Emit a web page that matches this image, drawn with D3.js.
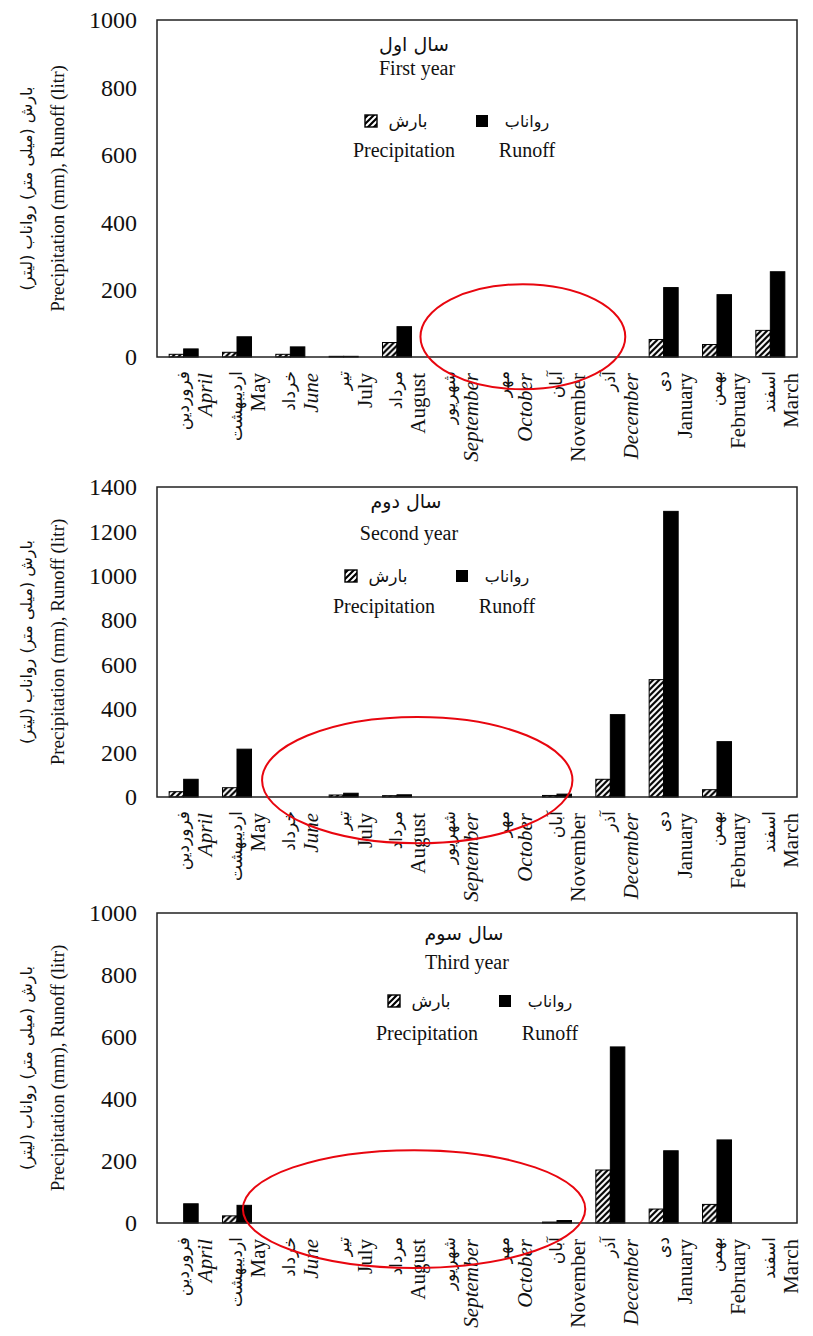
<!DOCTYPE html>
<html>
<head>
<meta charset="utf-8">
<script src="https://cdn.jsdelivr.net/npm/d3@7"></script>
<style>
  body { margin: 0; background: #fff; }
</style>
</head>
<body>
<div id="chart"></div>
<script>
// months (Persian calendar order, April -> March)
const monthsEn = ["April", "May", "June", "July", "August", "September", "October", "November", "December", "January", "February", "March"];
const monthsFa = ["فروردین", "اردیبهشت", "خرداد", "تیر", "مرداد", "شهریور", "مهر", "آبان", "آذر", "دی", "بهمن", "اسفند"];
const italicMonths = ["April", "June", "September", "October", "December"];

// first year
const precip1 = [8, 14, 8, 2, 43, 0, 0, 0, 0, 52, 37, 79];
const runoff1 = [24, 60, 30, 2, 90, 0, 0, 0, 0, 206, 185, 253];
// second year
const precip2 = [24, 42, 0, 9, 6, 0, 0, 7, 80, 530, 33, 0];
const runoff2 = [80, 216, 0, 17, 10, 0, 0, 13, 372, 1290, 250, 0];
// third year
const precip3 = [0, 23, 0, 0, 0, 0, 0, 3, 171, 45, 60, 0];
const runoff3 = [62, 57, 0, 0, 0, 0, 0, 8, 568, 233, 268, 0];

const ticks1 = [0, 200, 400, 600, 800, 1000];
const ticks2 = [0, 200, 400, 600, 800, 1000, 1200, 1400];
const ticks3 = [0, 200, 400, 600, 800, 1000];

const titlesFa = ["سال اول", "سال دوم", "سال سوم"];
const titlesEn = ["First year", "Second year", "Third year"];
const legendFa = ["بارش", "رواناب"];
const legendEn = ["Precipitation", "Runoff"];
const yTitleFa = "بارش (میلی متر) رواناب (لیتر)";
const yTitleEn = "Precipitation (mm), Runoff (litr)";

const serif = "'Liberation Serif', 'Times New Roman', serif";
const faFont = "'DejaVu Sans', sans-serif";

const width = 813, height = 1336;
const left = 157, right = 797;

// layout of each panel (pixels); ellipse in category / value units
const panels = [
  { precip: precip1, runoff: runoff1, ticks: ticks1, top: 20, bottom: 357,
    titleX: 414, titleFaY: 51, titleEnY: 75, legX: 404, legRowY: 121, legEnY: 157,
    ell: { cx: 6.86, cy: 60, rx: 1.92, ry: 156 } },
  { precip: precip2, runoff: runoff2, ticks: ticks2, top: 487, bottom: 797,
    titleX: 406, titleFaY: 508, titleEnY: 540, legX: 384, legRowY: 576, legEnY: 613,
    ell: { cx: 4.88, cy: 76, rx: 2.91, ry: 285 } },
  { precip: precip3, runoff: runoff3, ticks: ticks3, top: 913, bottom: 1223,
    titleX: 464, titleFaY: 940, titleEnY: 969, legX: 427, legRowY: 1001, legEnY: 1040,
    ell: { cx: 4.82, cy: 45, rx: 3.21, ry: 190 } }
];

const svg = d3.select("#chart")
  .append("svg")
  .attr("width", width)
  .attr("height", height)
  .style("background", "#fff");

// hatch pattern for precipitation
const defs = svg.append("defs");
const pat = defs.append("pattern")
  .attr("id", "hatch")
  .attr("patternUnits", "userSpaceOnUse")
  .attr("width", 6)
  .attr("height", 6);
pat.append("rect").attr("width", 6).attr("height", 6).attr("fill", "#fff");
pat.append("path")
  .attr("d", "M-1,1 l2,-2 M0,6 l6,-6 M5,7 l2,-2")
  .attr("stroke", "#000")
  .attr("stroke-width", 2.2);

const x0 = d3.scaleBand()
  .domain(monthsEn)
  .range([left, right])
  .paddingInner(0.456)
  .paddingOuter(0.228);

const x1 = d3.scaleBand()
  .domain(["precip", "runoff"])
  .range([0, x0.bandwidth()]);

const xCat = d3.scaleLinear().domain([0, 12]).range([left, right]);

panels.forEach((p, i) => {
  const yMax = d3.max(p.ticks);
  const y = d3.scaleLinear().domain([0, yMax]).range([p.bottom, p.top]);
  const g = svg.append("g");

  // y axis labels
  const yAxis = g.append("g")
    .attr("transform", `translate(${left},0)`)
    .call(d3.axisLeft(y).tickValues(p.ticks).tickFormat(d3.format("d")).tickSize(0).tickPadding(20));
  yAxis.select(".domain").remove();
  yAxis.selectAll("text")
    .attr("font-family", serif)
    .attr("font-size", 24)
    .attr("fill", "#111")
    .attr("dy", "0.33em");

  // y title (two lines)
  const yt = g.append("g")
    .attr("transform", `translate(0,${(p.top + p.bottom) / 2}) rotate(-90)`);
  yt.append("text")
    .attr("x", 0).attr("y", 32)
    .attr("text-anchor", "middle")
    .attr("font-family", faFont)
    .attr("font-size", 16)
    .attr("fill", "#111")
    .text(yTitleFa);
  yt.append("text")
    .attr("x", 0).attr("y", 64)
    .attr("text-anchor", "middle")
    .attr("font-family", serif)
    .attr("font-size", 19)
    .attr("fill", "#111")
    .text(yTitleEn);

  // bars
  const rows = monthsEn.map((m, k) => ({ month: m, precip: p.precip[k], runoff: p.runoff[k] }));
  const grp = g.append("g")
    .selectAll("g")
    .data(rows)
    .join("g")
    .attr("transform", d => `translate(${x0(d.month)},0)`);

  grp.selectAll("rect")
    .data(d => ["precip", "runoff"].map(key => ({ key, value: d[key] })).filter(e => e.value > 0))
    .join("rect")
    .attr("x", d => x1(d.key))
    .attr("y", d => y(d.value))
    .attr("width", x1.bandwidth())
    .attr("height", d => y(0) - y(d.value))
    .attr("fill", d => d.key === "precip" ? "url(#hatch)" : "#000")
    .attr("stroke", "#000")
    .attr("stroke-width", 1);

  // frame
  g.append("rect")
    .attr("x", left)
    .attr("y", p.top)
    .attr("width", right - left)
    .attr("height", p.bottom - p.top)
    .attr("fill", "none")
    .attr("stroke", "#222")
    .attr("stroke-width", 1.5);

  // x labels, rotated, Persian + English
  const lab = g.append("g")
    .selectAll("g")
    .data(monthsEn.map((m, k) => ({ en: m, fa: monthsFa[k] })))
    .join("g")
    .attr("transform", d => `translate(${x0(d.en) + x0.bandwidth() / 2},${p.bottom + 14}) rotate(-90)`);
  lab.append("text")
    .attr("x", 0).attr("y", 5)
    .attr("text-anchor", "end")
    .attr("font-family", faFont)
    .attr("font-size", 17)
    .attr("fill", "#111")
    .text(d => d.fa);
  lab.append("text")
    .attr("x", -2).attr("y", 28)
    .attr("text-anchor", "end")
    .attr("font-family", serif)
    .attr("font-size", 21)
    .attr("font-style", d => italicMonths.includes(d.en) ? "italic" : "normal")
    .attr("fill", "#111")
    .text(d => d.en);

  // title
  g.append("text")
    .attr("x", p.titleX).attr("y", p.titleFaY)
    .attr("text-anchor", "middle")
    .attr("font-family", faFont)
    .attr("font-size", 19)
    .attr("fill", "#111")
    .text(titlesFa[i]);
  g.append("text")
    .attr("x", p.titleX + 3).attr("y", p.titleEnY)
    .attr("text-anchor", "middle")
    .attr("font-family", serif)
    .attr("font-size", 20)
    .attr("fill", "#111")
    .text(titlesEn[i]);

  // legend
  const lg = g.append("g").attr("transform", `translate(${p.legX},${p.legRowY})`);
  lg.append("rect")
    .attr("x", -39).attr("y", -6).attr("width", 12).attr("height", 12)
    .attr("fill", "url(#hatch)").attr("stroke", "#000").attr("stroke-width", 1.4);
  lg.append("text")
    .attr("x", 4).attr("y", 6)
    .attr("text-anchor", "middle")
    .attr("font-family", faFont).attr("font-size", 17).attr("fill", "#111")
    .text(legendFa[0]);
  lg.append("rect")
    .attr("x", 72).attr("y", -6).attr("width", 12).attr("height", 12)
    .attr("fill", "#000");
  lg.append("text")
    .attr("x", 123).attr("y", 6)
    .attr("text-anchor", "middle")
    .attr("font-family", faFont).attr("font-size", 16).attr("fill", "#111")
    .text(legendFa[1]);
  lg.append("text")
    .attr("x", 0).attr("y", p.legEnY - p.legRowY)
    .attr("text-anchor", "middle")
    .attr("font-family", serif).attr("font-size", 20).attr("fill", "#111")
    .text(legendEn[0]);
  lg.append("text")
    .attr("x", 123).attr("y", p.legEnY - p.legRowY)
    .attr("text-anchor", "middle")
    .attr("font-family", serif).attr("font-size", 20).attr("fill", "#111")
    .text(legendEn[1]);

  // red highlight ellipse
  g.append("ellipse")
    .attr("cx", xCat(p.ell.cx))
    .attr("cy", y(p.ell.cy))
    .attr("rx", xCat(p.ell.rx) - xCat(0))
    .attr("ry", y(0) - y(p.ell.ry))
    .attr("fill", "none")
    .attr("stroke", "#e8060f")
    .attr("stroke-width", 2);
});
</script>
</body>
</html>
